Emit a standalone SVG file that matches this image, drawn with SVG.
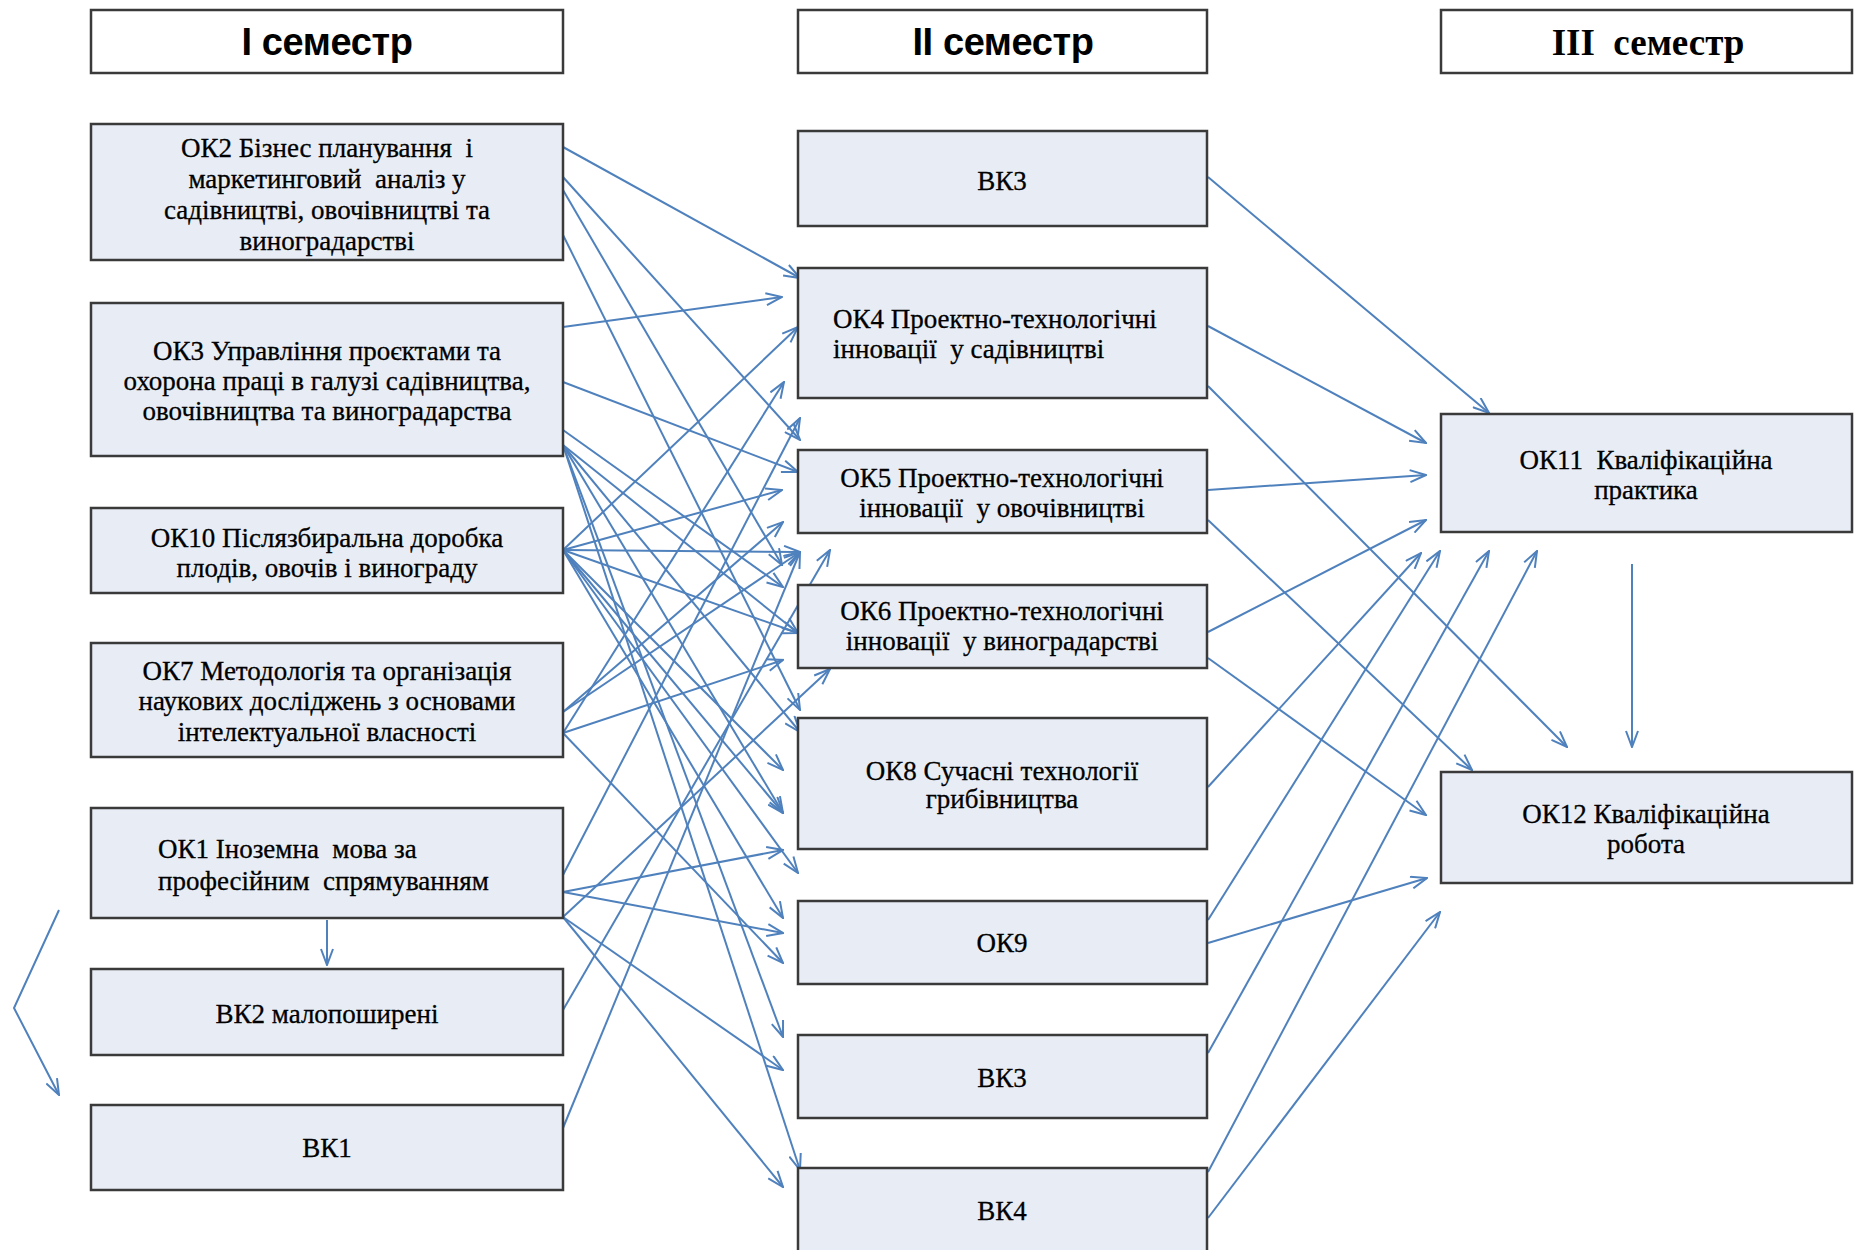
<svg xmlns="http://www.w3.org/2000/svg" width="1854" height="1250" viewBox="0 0 1854 1250">
<defs>
<marker id="ah" viewBox="0 0 18 14" refX="17" refY="7" markerWidth="18" markerHeight="14" markerUnits="userSpaceOnUse" orient="auto">
<path d="M1,1 L17,7 L1,13" fill="none" stroke="#4f81bd" stroke-width="2"/>
</marker>
<style>
.box{fill:#e8edf5;stroke:#3a3a3a;stroke-width:2.5}
.hdr{fill:#ffffff;stroke:#3a3a3a;stroke-width:2.5}
.t{font-family:"Liberation Serif","Times New Roman",serif;font-size:27px;fill:#000;stroke:#000;stroke-width:0.3;text-anchor:middle}
.tl{font-family:"Liberation Serif","Times New Roman",serif;font-size:27px;fill:#000;stroke:#000;stroke-width:0.3;text-anchor:start}
.h1{font-family:"Liberation Sans",Arial,sans-serif;font-size:38px;font-weight:bold;fill:#000;text-anchor:middle;letter-spacing:-0.4px}
.h3{font-family:"Liberation Serif","Times New Roman",serif;font-size:37px;font-weight:bold;fill:#000;text-anchor:middle}
.c{fill:none;stroke:#4f81bd;stroke-width:2;marker-end:url(#ah)}
</style>
</defs>
<rect width="1854" height="1250" fill="#ffffff"/>

<g id="connectors">
<path class="c" d="M563,147 L800,278"/>
<path class="c" d="M563,177 L800,440"/>
<path class="c" d="M563,190 L782,565"/>
<path class="c" d="M563,235 L800,710"/>
<path class="c" d="M563,327 L782,297"/>
<path class="c" d="M563,382 L798,472"/>
<path class="c" d="M563,430 L783,587"/>
<path class="c" d="M563,445 L798,633"/>
<path class="c" d="M563,445 L800,732"/>
<path class="c" d="M563,445 L783,813"/>
<path class="c" d="M563,445 L783,1037"/>
<path class="c" d="M563,445 L800,1170"/>
<path class="c" d="M563,550 L798,327"/>
<path class="c" d="M563,550 L782,490"/>
<path class="c" d="M563,550 L800,552"/>
<path class="c" d="M563,550 L798,633"/>
<path class="c" d="M563,550 L783,770"/>
<path class="c" d="M563,550 L783,813"/>
<path class="c" d="M563,550 L798,873"/>
<path class="c" d="M563,550 L783,918"/>
<path class="c" d="M563,712 L783,522"/>
<path class="c" d="M563,712 L800,552"/>
<path class="c" d="M563,733 L784,382"/>
<path class="c" d="M563,733 L783,660"/>
<path class="c" d="M563,733 L783,963"/>
<path class="c" d="M563,875 L800,418"/>
<path class="c" d="M563,892 L783,850"/>
<path class="c" d="M563,892 L783,933"/>
<path class="c" d="M563,917 L830,669"/>
<path class="c" d="M563,917 L783,1070"/>
<path class="c" d="M563,917 L783,1187"/>
<path class="c" d="M563,1010 L830,550"/>
<path class="c" d="M563,1128 L800,552"/>
<path class="c" d="M327,920 L327,965"/>
<path class="c" d="M59,910 L14,1008 L59,1095"/>
<path class="c" d="M1208,177 L1489,413"/>
<path class="c" d="M1208,326 L1426,443"/>
<path class="c" d="M1208,386 L1567,747"/>
<path class="c" d="M1208,490 L1426,475"/>
<path class="c" d="M1208,520 L1472,770"/>
<path class="c" d="M1208,632 L1426,520"/>
<path class="c" d="M1208,658 L1426,815"/>
<path class="c" d="M1208,787 L1421,553"/>
<path class="c" d="M1208,920 L1440,551"/>
<path class="c" d="M1208,943 L1427,878"/>
<path class="c" d="M1208,1053 L1489,551"/>
<path class="c" d="M1208,1172 L1537,551"/>
<path class="c" d="M1208,1218 L1440,912"/>
<path class="c" d="M1632,564 L1632,747"/>
</g>

<g id="hdr1"><rect class="hdr" x="91" y="10" width="472" height="63"/><text class="h1" x="327" y="55">І семестр</text></g>
<g id="hdr2"><rect class="hdr" x="798" y="10" width="409" height="63"/><text class="h1" x="1003" y="55">ІІ семестр</text></g>
<g id="hdr3"><rect class="hdr" x="1441" y="10" width="411" height="63"/><text class="h3" x="1648" y="55">ІІІ&#160; семестр</text></g>

<g id="ok2"><rect class="box" x="91" y="124" width="472" height="136"/>
<text class="t" x="327" y="157">ОК2 Бізнес планування&#160; і</text>
<text class="t" x="327" y="188">маркетинговий&#160; аналіз у</text>
<text class="t" x="327" y="219">садівництві, овочівництві та</text>
<text class="t" x="327" y="250">виноградарстві</text></g>
<g id="ok3"><rect class="box" x="91" y="303" width="472" height="153"/>
<text class="t" x="327" y="360">ОК3 Управління проєктами та</text>
<text class="t" x="327" y="390">охорона праці в галузі садівництва,</text>
<text class="t" x="327" y="420">овочівництва та виноградарства</text></g>
<g id="ok10"><rect class="box" x="91" y="508" width="472" height="85"/>
<text class="t" x="327" y="547">ОК10 Післязбиральна доробка</text>
<text class="t" x="327" y="577">плодів, овочів і винограду</text></g>
<g id="ok7"><rect class="box" x="91" y="643" width="472" height="114"/>
<text class="t" x="327" y="680">ОК7 Методологія та організація</text>
<text class="t" x="327" y="710">наукових досліджень з основами</text>
<text class="t" x="327" y="741">інтелектуальної власності</text></g>
<g id="ok1"><rect class="box" x="91" y="808" width="472" height="110"/>
<text class="tl" x="158" y="858">ОК1 Іноземна&#160; мова за</text>
<text class="tl" x="158" y="890">професійним&#160; спрямуванням</text></g>
<g id="vk2"><rect class="box" x="91" y="969" width="472" height="86"/>
<text class="t" x="327" y="1023">ВК2 малопоширені</text></g>
<g id="vk1"><rect class="box" x="91" y="1105" width="472" height="85"/>
<text class="t" x="327" y="1157">ВК1</text></g>

<g id="vk3a"><rect class="box" x="798" y="131" width="409" height="95"/>
<text class="t" x="1002" y="190">ВК3</text></g>
<g id="ok4"><rect class="box" x="798" y="268" width="409" height="130"/>
<text class="tl" x="833" y="328">ОК4 Проектно-технологічні</text>
<text class="tl" x="833" y="358">інновації&#160; у садівництві</text></g>
<g id="ok5"><rect class="box" x="798" y="450" width="409" height="83"/>
<text class="t" x="1002" y="487">ОК5 Проектно-технологічні</text>
<text class="t" x="1002" y="517">інновації&#160; у овочівництві</text></g>
<g id="ok6"><rect class="box" x="798" y="585" width="409" height="83"/>
<text class="t" x="1002" y="620">ОК6 Проектно-технологічні</text>
<text class="t" x="1002" y="650">інновації&#160; у виноградарстві</text></g>
<g id="ok8"><rect class="box" x="798" y="718" width="409" height="131"/>
<text class="t" x="1002" y="780">ОК8 Сучасні технології</text>
<text class="t" x="1002" y="808">грибівництва</text></g>
<g id="ok9"><rect class="box" x="798" y="901" width="409" height="83"/>
<text class="t" x="1002" y="952">ОК9</text></g>
<g id="vk3b"><rect class="box" x="798" y="1035" width="409" height="83"/>
<text class="t" x="1002" y="1087">ВК3</text></g>
<g id="vk4"><rect class="box" x="798" y="1168" width="409" height="100"/>
<text class="t" x="1002" y="1220">ВК4</text></g>

<g id="ok11"><rect class="box" x="1441" y="414" width="411" height="118"/>
<text class="t" x="1646" y="469">ОК11&#160; Кваліфікаційна</text>
<text class="t" x="1646" y="499">практика</text></g>
<g id="ok12"><rect class="box" x="1441" y="772" width="411" height="111"/>
<text class="t" x="1646" y="823">ОК12 Кваліфікаційна</text>
<text class="t" x="1646" y="853">робота</text></g>
</svg>
